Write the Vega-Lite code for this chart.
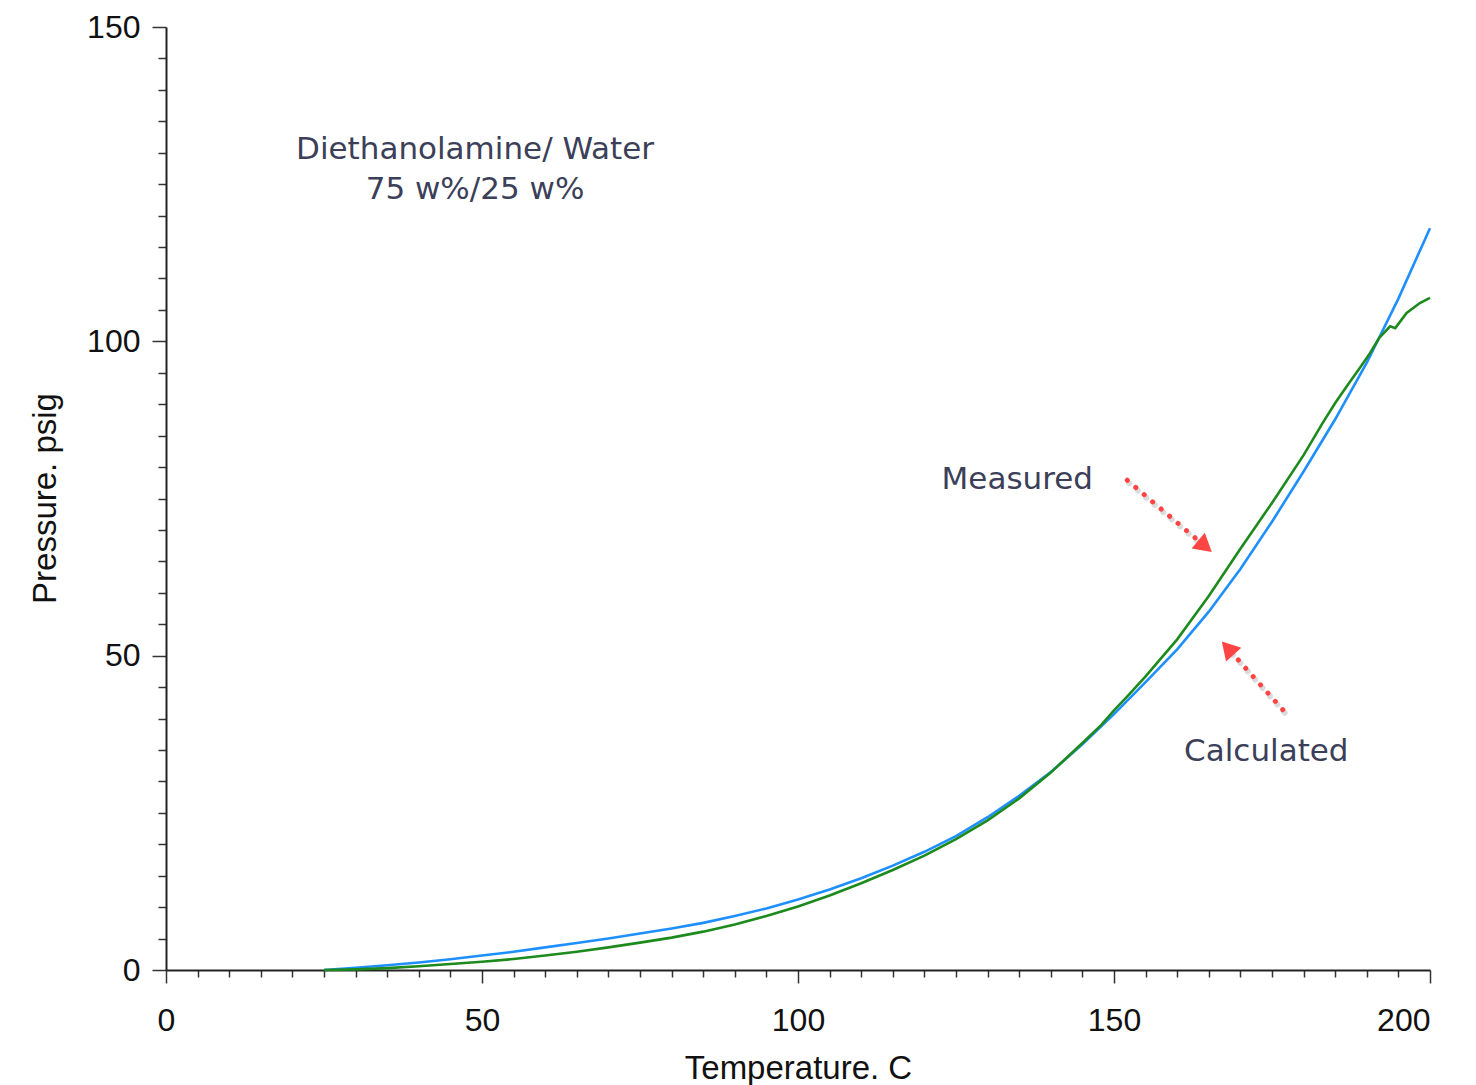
{
  "$schema": "https://vega.github.io/schema/vega-lite/v6.json",
  "width": 1264,
  "height": 943,
  "autosize": "none",
  "padding": {"left": 166, "top": 27, "right": 46, "bottom": 115},
  "background": "white",
  "config": {"view": {"stroke": null}},
  "datasets": {
    "curves": [
      {"T": 25, "P": 0, "series": "Calculated"},
      {"T": 30, "P": 0.35, "series": "Calculated"},
      {"T": 35, "P": 0.75, "series": "Calculated"},
      {"T": 40, "P": 1.2, "series": "Calculated"},
      {"T": 45, "P": 1.7, "series": "Calculated"},
      {"T": 50, "P": 2.3, "series": "Calculated"},
      {"T": 55, "P": 2.9, "series": "Calculated"},
      {"T": 60, "P": 3.6, "series": "Calculated"},
      {"T": 65, "P": 4.3, "series": "Calculated"},
      {"T": 70, "P": 5.0, "series": "Calculated"},
      {"T": 75, "P": 5.8, "series": "Calculated"},
      {"T": 80, "P": 6.6, "series": "Calculated"},
      {"T": 85, "P": 7.5, "series": "Calculated"},
      {"T": 90, "P": 8.6, "series": "Calculated"},
      {"T": 95, "P": 9.8, "series": "Calculated"},
      {"T": 100, "P": 11.2, "series": "Calculated"},
      {"T": 105, "P": 12.8, "series": "Calculated"},
      {"T": 110, "P": 14.6, "series": "Calculated"},
      {"T": 115, "P": 16.6, "series": "Calculated"},
      {"T": 120, "P": 18.8, "series": "Calculated"},
      {"T": 125, "P": 21.3, "series": "Calculated"},
      {"T": 130, "P": 24.3, "series": "Calculated"},
      {"T": 135, "P": 27.7, "series": "Calculated"},
      {"T": 140, "P": 31.5, "series": "Calculated"},
      {"T": 145, "P": 35.9, "series": "Calculated"},
      {"T": 150, "P": 40.7, "series": "Calculated"},
      {"T": 155, "P": 45.8, "series": "Calculated"},
      {"T": 160, "P": 51.0, "series": "Calculated"},
      {"T": 165, "P": 57.0, "series": "Calculated"},
      {"T": 170, "P": 63.8, "series": "Calculated"},
      {"T": 175, "P": 71.3, "series": "Calculated"},
      {"T": 180, "P": 79.3, "series": "Calculated"},
      {"T": 185, "P": 87.6, "series": "Calculated"},
      {"T": 190, "P": 96.6, "series": "Calculated"},
      {"T": 195, "P": 106.8, "series": "Calculated"},
      {"T": 200, "P": 118.0, "series": "Calculated"},
      {"T": 25, "P": 0, "series": "Measured"},
      {"T": 30, "P": 0.1, "series": "Measured"},
      {"T": 35, "P": 0.3, "series": "Measured"},
      {"T": 40, "P": 0.6, "series": "Measured"},
      {"T": 45, "P": 0.95, "series": "Measured"},
      {"T": 50, "P": 1.3, "series": "Measured"},
      {"T": 55, "P": 1.75, "series": "Measured"},
      {"T": 60, "P": 2.3, "series": "Measured"},
      {"T": 65, "P": 2.9, "series": "Measured"},
      {"T": 70, "P": 3.6, "series": "Measured"},
      {"T": 75, "P": 4.35, "series": "Measured"},
      {"T": 80, "P": 5.15, "series": "Measured"},
      {"T": 85, "P": 6.1, "series": "Measured"},
      {"T": 90, "P": 7.25, "series": "Measured"},
      {"T": 95, "P": 8.6, "series": "Measured"},
      {"T": 100, "P": 10.1, "series": "Measured"},
      {"T": 105, "P": 11.85, "series": "Measured"},
      {"T": 110, "P": 13.8, "series": "Measured"},
      {"T": 115, "P": 15.9, "series": "Measured"},
      {"T": 120, "P": 18.2, "series": "Measured"},
      {"T": 125, "P": 20.8, "series": "Measured"},
      {"T": 130, "P": 23.8, "series": "Measured"},
      {"T": 135, "P": 27.3, "series": "Measured"},
      {"T": 140, "P": 31.4, "series": "Measured"},
      {"T": 145, "P": 36.1, "series": "Measured"},
      {"T": 148, "P": 39.0, "series": "Measured"},
      {"T": 150, "P": 41.3, "series": "Measured"},
      {"T": 152, "P": 43.4, "series": "Measured"},
      {"T": 155, "P": 46.7, "series": "Measured"},
      {"T": 160, "P": 52.6, "series": "Measured"},
      {"T": 165, "P": 59.5, "series": "Measured"},
      {"T": 170, "P": 67.0, "series": "Measured"},
      {"T": 175, "P": 74.3, "series": "Measured"},
      {"T": 180, "P": 81.9, "series": "Measured"},
      {"T": 183, "P": 87.0, "series": "Measured"},
      {"T": 185, "P": 90.2, "series": "Measured"},
      {"T": 187, "P": 93.1, "series": "Measured"},
      {"T": 189, "P": 95.9, "series": "Measured"},
      {"T": 190.5, "P": 98.1, "series": "Measured"},
      {"T": 192, "P": 100.6, "series": "Measured"},
      {"T": 193.7, "P": 102.4, "series": "Measured"},
      {"T": 194.5, "P": 102.1, "series": "Measured"},
      {"T": 196.3, "P": 104.5, "series": "Measured"},
      {"T": 198.4, "P": 106.1, "series": "Measured"},
      {"T": 200, "P": 106.9, "series": "Measured"}
    ],
    "notes": [
      {"label": "Diethanolamine/ Water", "T": 48.9, "P": 130.4},
      {"label": "75 w%/25 w%", "T": 48.9, "P": 124.0},
      {"label": "Measured", "T": 134.7, "P": 77.9},
      {"label": "Calculated", "T": 174.1, "P": 34.7}
    ],
    "arrows": [
      {"name": "Measured", "T": 152.1, "P": 77.9, "T2": 164.4, "P2": 67.4},
      {"name": "Calculated", "T": 176.7, "P": 41.4, "T2": 168.0, "P2": 51.2}
    ]
  },
  "layer": [
    {
      "data": {"name": "curves"},
      "transform": [{"filter": "datum.series === 'Calculated'"}],
      "mark": {"type": "line", "color": "#1e8fff", "strokeWidth": 2.6},
      "encoding": {
        "x": {
          "field": "T", "type": "quantitative",
          "scale": {"domain": [0, 200], "nice": false},
          "axis": {
            "values": [0,5,10,15,20,25,30,35,40,45,50,55,60,65,70,75,80,85,90,95,100,105,110,115,120,125,130,135,140,145,150,155,160,165,170,175,180,185,190,195,200],
            "tickCount": 200,
            "labelExpr": "datum.value % 50 === 0 ? datum.label : ''",
            "tickSize": {"condition": {"test": "datum.value % 50 === 0", "value": 13}, "value": 7},
            "labelAlign": {"condition": {"test": "datum.value === 200", "value": "right"}, "value": "center"},
            "labelFlush": false,
            "labelOverlap": false,
            "labelBound": false,
            "labelFont": "Liberation Sans",
            "labelFontSize": 32,
            "labelColor": "#111111",
            "labelPadding": 22,
            "grid": false,
            "domainColor": "#222222",
            "domainWidth": 2,
            "tickColor": "#333333",
            "tickWidth": 1.5,
            "title": "Temperature. C",
            "titleFont": "Liberation Sans",
            "titleFontSize": 33,
            "titleFontWeight": "normal",
            "titleColor": "#111111",
            "titleX": 632,
            "titleY": 98,
            "titleAlign": "center",
            "titleBaseline": "middle"
          }
        },
        "y": {
          "field": "P", "type": "quantitative",
          "scale": {"domain": [0, 150], "nice": false},
          "axis": {
            "values": [0,5,10,15,20,25,30,35,40,45,50,55,60,65,70,75,80,85,90,95,100,105,110,115,120,125,130,135,140,145,150],
            "tickCount": 200,
            "labelExpr": "datum.value % 50 === 0 ? datum.label : ''",
            "tickSize": {"condition": {"test": "datum.value % 50 === 0", "value": 14}, "value": 8},
            "labelFlush": false,
            "labelOverlap": false,
            "labelBound": false,
            "labelFont": "Liberation Sans",
            "labelFontSize": 32,
            "labelColor": "#111111",
            "labelPadding": 12,
            "grid": false,
            "domainColor": "#222222",
            "domainWidth": 2,
            "tickColor": "#333333",
            "tickWidth": 1.5,
            "title": "Pressure. psig",
            "titleFont": "Liberation Sans",
            "titleFontSize": 33,
            "titleFontWeight": "normal",
            "titleColor": "#111111",
            "titleAngle": -90,
            "titleX": -121,
            "titleY": 471,
            "titleAlign": "center",
            "titleBaseline": "middle"
          }
        }
      }
    },
    {
      "data": {"name": "curves"},
      "transform": [{"filter": "datum.series === 'Measured'"}],
      "mark": {"type": "line", "color": "#1d8a1d", "strokeWidth": 2.6},
      "encoding": {
        "x": {"field": "T", "type": "quantitative"},
        "y": {"field": "P", "type": "quantitative"}
      }
    },
    {
      "data": {"name": "arrows"},
      "mark": {"type": "rule", "color": "#888888", "opacity": 0.3, "strokeWidth": 6, "strokeDash": [0.1, 11], "strokeCap": "round", "xOffset": 2, "yOffset": 3, "x2Offset": 2, "y2Offset": 3},
      "encoding": {
        "x": {"field": "T", "type": "quantitative"},
        "y": {"field": "P", "type": "quantitative"},
        "x2": {"field": "T2"},
        "y2": {"field": "P2"}
      }
    },
    {
      "data": {"name": "arrows"},
      "mark": {"type": "rule", "color": "#ff4444", "strokeWidth": 5, "strokeDash": [0.1, 11], "strokeCap": "round"},
      "encoding": {
        "x": {"field": "T", "type": "quantitative"},
        "y": {"field": "P", "type": "quantitative"},
        "x2": {"field": "T2"},
        "y2": {"field": "P2"}
      }
    },
    {
      "data": {"name": "arrows"},
      "transform": [{"filter": "datum.name === 'Measured'"}],
      "mark": {"type": "point", "shape": "triangle-right", "angle": 40, "filled": true, "color": "#ff4444", "opacity": 1, "size": 420},
      "encoding": {
        "x": {"field": "T2", "type": "quantitative"},
        "y": {"field": "P2", "type": "quantitative"}
      }
    },
    {
      "data": {"name": "arrows"},
      "transform": [{"filter": "datum.name === 'Calculated'"}],
      "mark": {"type": "point", "shape": "triangle-right", "angle": 228, "filled": true, "color": "#ff4444", "opacity": 1, "size": 420},
      "encoding": {
        "x": {"field": "T2", "type": "quantitative"},
        "y": {"field": "P2", "type": "quantitative"}
      }
    },
    {
      "data": {"name": "notes"},
      "mark": {"type": "text", "font": "DejaVu Sans", "fontSize": 31, "color": "#3b4058", "align": "center", "baseline": "middle"},
      "encoding": {
        "x": {"field": "T", "type": "quantitative"},
        "y": {"field": "P", "type": "quantitative"},
        "text": {"field": "label"}
      }
    }
  ]
}
